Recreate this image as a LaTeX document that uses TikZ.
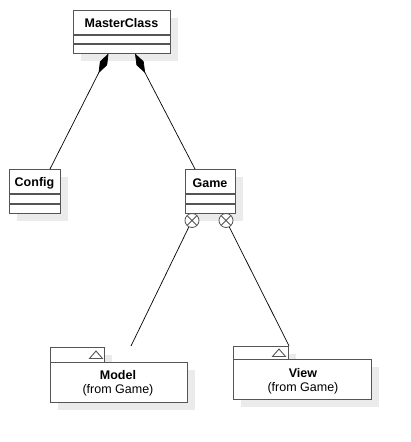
\documentclass[tikz,border=0pt]{standalone}
\usepackage{fontspec}
\setmainfont{Liberation Sans}
\usetikzlibrary{arrows.meta,shadows}
\definecolor{edge}{HTML}{555555}
\definecolor{shade}{HTML}{EBEBEB}
\begin{document}
\begin{tikzpicture}[x=1pt,y=-1pt,
  umlbox/.style={draw=edge, fill=white, line width=1.1pt, inner sep=0pt, anchor=north west,
    general shadow={fill=shade, draw=none, shadow xshift=7pt, shadow yshift=-7pt}},
  cname/.style={font=\bfseries\fontsize{12.5}{14}\selectfont, inner sep=0pt},
  pnote/.style={font=\fontsize{12.5}{14}\selectfont, inner sep=0pt},
  divider/.style={draw=edge, line width=1.1pt},
  conn/.style={draw=black, line width=0.7pt},
  compo/.style={conn, -{Diamond[length=22pt,width=8pt,fill=black]}},
  xcirc/.style={circle, draw=edge, line width=0.8pt, fill=white, minimum size=14pt, inner sep=0pt,
    path picture={\draw[edge, line width=0.8pt] (path picture bounding box.north west) -- (path picture bounding box.south east)
      (path picture bounding box.north east) -- (path picture bounding box.south west);}},
  tri/.style={draw=edge, line width=0.9pt, fill=white}
]
\useasboundingbox (0,0) rectangle (411,442);

% MasterClass
\node[umlbox, minimum width=97pt, minimum height=43pt] (mc) at (73,10) {};
\node[cname] (mcn) at (121.5,23) {MasterClass};
\draw[divider] (73,35) -- (170,35) (73,44) -- (170,44);

% Config
\node[umlbox, minimum width=51pt, minimum height=44pt] (cfg) at (9,169) {};
\node[cname] (cfgn) at (34.5,183) {Config};
\draw[divider] (9,194) -- (60,194) (9,204) -- (60,204);

% Game
\node[umlbox, minimum width=50pt, minimum height=44pt] (game) at (185,169) {};
\node[cname] (gamen) at (210,183) {Game};
\draw[divider] (185,194) -- (235,194) (185,204) -- (235,204);

% Model package
\node[umlbox, minimum width=54pt, minimum height=15pt] (mtab) at (50,347) {};
\node[umlbox, minimum width=137pt, minimum height=40pt] (mbody) at (50,362) {};
\node[cname] (mname) at (118,375) {Model};
\node[pnote] (mnote) at (118,390.5) {(from Game)};
\draw[tri] (89.5,358.5) -- (102.5,358.5) -- (96,351) -- cycle;

% View package
\node[umlbox, minimum width=55pt, minimum height=13pt] (vtab) at (233,346) {};
\node[umlbox, minimum width=138pt, minimum height=40pt] (vbody) at (233,359) {};
\node[cname] (vname) at (303,373) {View};
\node[pnote] (vnote) at (303,388.5) {(from Game)};
\draw[tri] (272.5,356.5) -- (285.5,356.5) -- (279,349) -- cycle;

% composition connectors
\coordinate (cfgTop) at (50,169);
\coordinate (gameTop) at (195,169);
\coordinate (mcL) at (108.5,53.5);
\coordinate (mcR) at (135,53.5);
\draw[compo] (cfgTop) -- (mcL);
\draw[compo] (gameTop) -- (mcR);

% containment connectors
\node[xcirc] (cL) at (192,220.5) {};
\node[xcirc] (cR) at (226,220.5) {};
\coordinate (mEnd) at (131,346);
\draw[conn] (cL) -- (mEnd);
\draw[conn] (cR) -- (vtab.north east);
\end{tikzpicture}
\end{document}
